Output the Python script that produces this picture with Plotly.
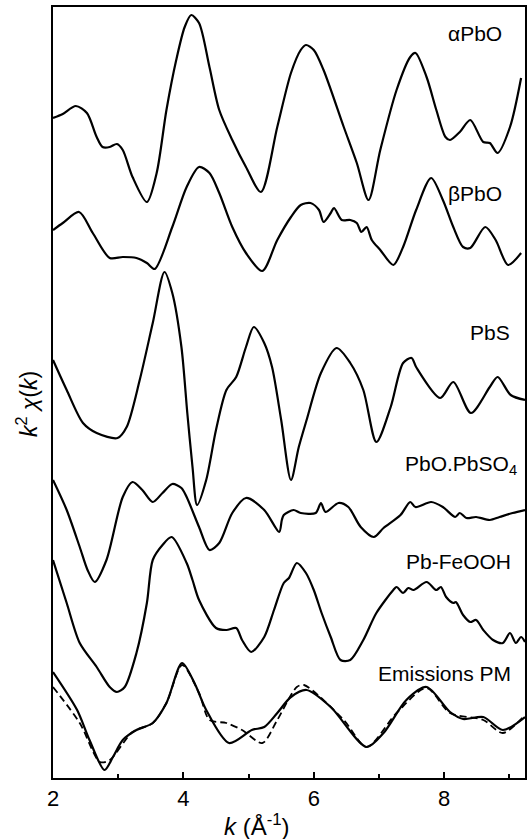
import plotly.graph_objects as go

# k values (Å^-1) and stacked, offset k^2 chi(k) values (arbitrary units)
k_apbo = [2.00, 2.15, 2.35, 2.52, 2.67, 2.76, 2.87, 2.98, 3.07, 3.22, 3.44, 3.59, 3.74, 3.89, 4.02, 4.12,
          4.24, 4.40, 4.55, 4.75, 4.96, 5.19, 5.44, 5.65, 5.80, 5.88, 6.00, 6.15, 6.46, 6.66, 6.84, 7.02,
          7.27, 7.48, 7.56, 7.73, 7.88, 8.02, 8.09, 8.24, 8.40, 8.60, 8.70, 8.82, 9.01, 9.18]
y_apbo = [660, 664, 672, 665, 641, 631, 631, 634, 628, 601, 576, 605, 668, 718, 751, 763,
          755, 711, 668, 638, 611, 586, 651, 705, 728, 733, 728, 708, 651, 615, 578, 628,
          688, 721, 725, 701, 668, 641, 638, 646, 658, 636, 635, 625, 651, 700]

k_bpbo = [2.00, 2.15, 2.40, 2.61, 2.87, 3.07, 3.28, 3.44, 3.56, 3.83, 4.05, 4.24, 4.40, 4.55, 4.75, 4.96,
          5.21, 5.44, 5.65, 5.80, 5.95, 6.08, 6.15, 6.26, 6.31, 6.43, 6.56, 6.66, 6.73, 6.81, 6.89, 7.02,
          7.22, 7.37, 7.57, 7.80, 7.98, 8.14, 8.29, 8.40, 8.63, 8.79, 8.98, 9.18]
y_bpbo = [548, 555, 566, 545, 520, 521, 520, 515, 509, 551, 591, 611, 605, 585, 551, 525,
          507, 538, 561, 573, 575, 568, 556, 565, 570, 558, 558, 555, 546, 551, 538, 528,
          513, 531, 568, 600, 578, 551, 531, 530, 551, 538, 513, 525]

k_pbs = [2.00, 2.21, 2.46, 2.67, 2.99, 3.13, 3.33, 3.53, 3.71, 3.83, 3.97, 4.06, 4.14, 4.21, 4.35, 4.50,
         4.66, 4.81, 4.96, 5.08, 5.24, 5.36, 5.50, 5.65, 5.77, 5.89, 6.11, 6.35, 6.56, 6.76, 6.96, 7.18,
         7.37, 7.50, 7.57, 7.94, 8.14, 8.41, 8.70, 8.82, 9.02, 9.24]
y_pbs = [418, 388, 355, 345, 340, 351, 398, 455, 506, 485, 431, 365, 311, 273, 298, 348,
         388, 401, 431, 451, 435, 411, 358, 298, 331, 358, 405, 430, 415, 388, 336, 371,
         415, 420, 411, 380, 396, 365, 391, 401, 383, 378]

k_pbso4 = [2.00, 2.21, 2.41, 2.53, 2.64, 2.82, 3.07, 3.22, 3.37, 3.53, 3.68, 3.83, 3.97, 4.05, 4.24, 4.40,
           4.55, 4.75, 4.96, 5.24, 5.47, 5.51, 5.54, 5.69, 5.80, 6.03, 6.11, 6.18, 6.38, 6.53, 6.72, 6.92,
           7.07, 7.33, 7.48, 7.56, 7.80, 7.98, 8.17, 8.24, 8.34, 8.49, 8.70, 8.85, 9.05, 9.24]
y_pbso4 = [298, 268, 231, 208, 196, 218, 281, 296, 288, 276, 285, 294, 290, 281, 251, 228,
           235, 265, 280, 268, 246, 258, 263, 268, 265, 265, 275, 266, 275, 271, 251, 241,
           250, 263, 276, 271, 276, 271, 261, 265, 260, 261, 258, 261, 265, 268]

k_feooh = [2.00, 2.21, 2.41, 2.67, 2.87, 2.98, 3.10, 3.28, 3.44, 3.53, 3.68, 3.82, 4.05, 4.14, 4.24, 4.50,
           4.66, 4.81, 4.90, 5.04, 5.24, 5.39, 5.54, 5.62, 5.74, 5.88, 6.00, 6.12, 6.26, 6.41, 6.56, 6.76,
           6.96, 7.22, 7.27, 7.37, 7.45, 7.53, 7.73, 7.88, 7.95, 8.03, 8.14, 8.18, 8.29, 8.40, 8.49, 8.60,
           8.75, 8.90, 9.01, 9.10, 9.18, 9.24]
y_feooh = [218, 175, 135, 111, 91, 86, 91, 125, 175, 218, 233, 241, 215, 198, 178, 150,
           148, 150, 138, 126, 141, 168, 195, 200, 215, 205, 188, 165, 141, 118, 118, 138,
           165, 188, 191, 185, 190, 188, 196, 188, 191, 181, 175, 176, 163, 156, 158, 148,
           138, 135, 145, 135, 141, 136]

k_pm = [2.00, 2.37, 2.56, 2.79, 2.92, 3.07, 3.28, 3.53, 3.74, 3.98, 4.17, 4.35, 4.70, 5.05, 5.24, 5.44,
        5.65, 5.89, 6.26, 6.81, 7.07, 7.42, 7.73, 8.09, 8.29, 8.60, 8.90, 9.24]
y_pm = [106, 68, 38, 8, 21, 38, 48, 55, 75, 115, 95, 68, 35, 48, 51, 65,
        81, 88, 71, 31, 45, 78, 91, 66, 59, 61, 48, 61]

k_fit = [2.00, 2.41, 2.72, 2.87, 3.22, 3.53, 3.74, 3.98, 4.24, 4.40, 4.66, 4.90, 5.21, 5.44, 5.74, 5.85,
         6.46, 6.81, 7.27, 7.73, 8.09, 8.60, 8.90, 9.24]
y_fit = [91, 55, 16, 18, 46, 55, 75, 113, 85, 58, 55, 48, 35, 58, 91, 93,
         58, 31, 65, 90, 65, 58, 45, 63]

names = ["αPbO", "βPbO", "PbS", "PbO.PbSO<sub>4</sub>", "Pb-FeOOH", "Emissions PM"]
label_y = [745, 585, 446, 313, 217, 105]
x_ticks = [2, 4, 6, 8]

series = [(k_apbo, y_apbo), (k_bpbo, y_bpbo), (k_pbs, y_pbs),
          (k_pbso4, y_pbso4), (k_feooh, y_feooh), (k_pm, y_pm)]

FONT = "Liberation Sans, Arial, sans-serif"

fig = go.Figure()
for kx, yv in series:
    fig.add_trace(go.Scatter(x=kx, y=yv, mode="lines",
                             line=dict(color="black", width=2.2, shape="spline", smoothing=0.8),
                             showlegend=False, hoverinfo="skip"))
fig.add_trace(go.Scatter(x=k_fit, y=y_fit, mode="lines",
                         line=dict(color="black", width=1.8, dash="7px,4px", shape="spline", smoothing=0.8),
                         showlegend=False, hoverinfo="skip"))

label_right = [0.955, 0.955, 0.972, 0.987, 0.975, 0.975]
for name, ly, xr in zip(names, label_y, label_right):
    fig.add_annotation(x=xr, xref="paper", y=ly, yref="y", text=name, showarrow=False,
                       xanchor="right", yanchor="middle",
                       font=dict(family=FONT, size=21, color="black"))

fig.add_annotation(x=-0.055, xref="paper", y=0.485, yref="paper", xanchor="center", yanchor="middle",
                   text="<i>k</i><sup>2</sup> <i>χ</i>(<i>k</i>)", textangle=-90, showarrow=False,
                   font=dict(family=FONT, size=23, color="black"))
fig.add_annotation(x=0.432, xref="paper", y=-0.061, yref="paper", xanchor="center", yanchor="middle",
                   text="<i>k</i> (Å<sup>-1</sup>)", showarrow=False,
                   font=dict(family=FONT, size=24, color="black"))

fig.update_layout(
    width=530, height=839,
    margin=dict(l=53, r=3, t=7, b=61),
    paper_bgcolor="white", plot_bgcolor="white",
    xaxis=dict(range=[2, 9.24], tickvals=x_ticks, ticks="inside", ticklen=6, tickwidth=2,
               tickcolor="black", showgrid=False, zeroline=False,
               showline=True, linecolor="black", linewidth=2, mirror=True,
               minor=dict(dtick=1, tick0=1, ticks="inside", ticklen=4, tickwidth=1.5, tickcolor="black"),
               tickfont=dict(family=FONT, size=22, color="black")),
    yaxis=dict(range=[0, 771], showticklabels=False, ticks="", showgrid=False, zeroline=False,
               showline=True, linecolor="black", linewidth=2, mirror=True),
)

fig.write_html("out.html")
